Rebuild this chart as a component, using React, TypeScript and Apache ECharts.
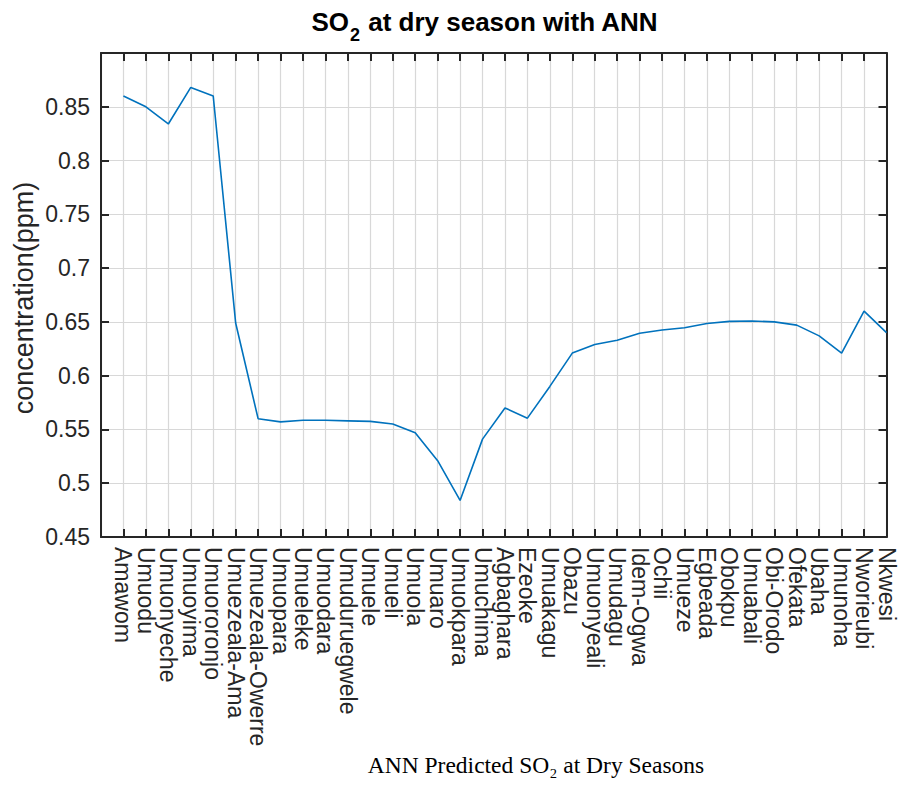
import { useEffect, useRef } from "react";
import * as echarts from "echarts";

// Sampling locations along the x axis
const villages = [
  "Amawom", "Umuodu", "Umuonyeche", "Umuoyima", "Umuororonjo", "Umuezeala-Ama",
  "Umuezeala-Owerre", "Umuopara", "Umueleke", "Umuodara", "Umuduruegwele", "Umuele",
  "Umueli", "Umuola", "Umuaro", "Umuokpara", "Umuchima", "Agbaghara", "Ezeoke",
  "Umuakagu", "Obazu", "Umuonyeali", "Umudagu", "Idem-Ogwa", "Ochii", "Umueze",
  "Egbeada", "Obokpu", "Umuabali", "Obi-Orodo", "Ofekata", "Ubaha", "Umunoha",
  "Nworieubi", "Nkwesi",
];

// ANN predicted SO2 concentration (ppm), dry season
const so2Dry = [
  0.86, 0.85, 0.834, 0.868, 0.86, 0.649, 0.56, 0.557, 0.5585, 0.5585, 0.558, 0.5575,
  0.555, 0.547, 0.521, 0.484, 0.541, 0.57, 0.5605, 0.59, 0.621, 0.629, 0.633, 0.6395,
  0.6425, 0.6445, 0.6485, 0.6505, 0.6508, 0.65, 0.647, 0.637, 0.621, 0.66, 0.64,
];

// y axis range and tick step
const yMin = 0.45;
const yMax = 0.9;
const yStep = 0.05;

// title pieces: formula, subscript, rest
const titleParts = ["SO", "2", " at dry season with ANN"];

const INK = "#262626";
const GRID = "#d8d8d8";
const SANS = "'Liberation Sans', Arial, Helvetica, sans-serif";
const TITLE_FONT = `bold 26px ${SANS}`;
const SUB_FONT = `bold 18px ${SANS}`;

function measure(text: string, font: string): number {
  const ctx = document.createElement("canvas").getContext("2d");
  if (!ctx) return text.length * 14;
  ctx.font = font;
  return ctx.measureText(text).width;
}

export default function App() {
  const ref = useRef<HTMLDivElement>(null);

  useEffect(() => {
    if (!ref.current) return;
    const chart = echarts.init(ref.current, undefined, { renderer: "svg" });

    // leading empty slot so the first village sits one step in from the left edge
    const cats = ["", ...villages];
    const values = [null, ...so2Dry];

    const frameLine = { show: true, lineStyle: { color: INK, width: 2 } };
    const inTick = { show: true, inside: true, length: 8, lineStyle: { color: INK, width: 2 } };

    // lay the title out piece by piece so the 2 sits as a subscript
    const w0 = measure(titleParts[0], TITLE_FONT);
    const w1 = measure(titleParts[1], SUB_FONT) + 2;
    const w2 = measure(titleParts[2], TITLE_FONT);
    const titleCenter = 485;
    const tx = titleCenter - (w0 + w1 + w2) / 2;
    const titleY = 22;

    chart.setOption({
      animation: false,
      backgroundColor: "#ffffff",
      grid: { left: 101, top: 53, right: 10, bottom: 250, containLabel: false },
      xAxis: [
        {
          type: "category",
          data: cats,
          boundaryGap: false,
          position: "bottom",
          axisLine: frameLine,
          axisTick: { ...inTick, interval: 0 },
          axisLabel: {
            interval: 0,
            rotate: -90,
            margin: 10,
            color: INK,
            fontSize: 23,
            fontFamily: SANS,
          },
          splitLine: { show: true, interval: 0, lineStyle: { color: GRID, width: 1.2 } },
        },
        {
          type: "category",
          data: cats,
          boundaryGap: false,
          position: "top",
          axisLine: frameLine,
          axisTick: { ...inTick, interval: 0 },
          axisLabel: { show: false },
          splitLine: { show: false },
        },
      ],
      yAxis: [
        {
          type: "value",
          min: yMin,
          max: yMax,
          interval: yStep,
          position: "left",
          axisLine: frameLine,
          axisTick: inTick,
          axisLabel: {
            showMaxLabel: false,
            margin: 11,
            color: INK,
            fontSize: 23,
            fontFamily: SANS,
          },
          splitLine: { show: true, lineStyle: { color: GRID, width: 1.2 } },
        },
        {
          type: "value",
          min: yMin,
          max: yMax,
          interval: yStep,
          position: "right",
          axisLine: frameLine,
          axisTick: inTick,
          axisLabel: { show: false },
          splitLine: { show: false },
        },
      ],
      series: [
        {
          type: "line",
          data: values,
          xAxisIndex: 0,
          yAxisIndex: 0,
          showSymbol: false,
          symbol: "none",
          lineStyle: { color: "#0072BD", width: 1.6 },
          z: 5,
        },
      ],
      graphic: [
        {
          type: "text",
          x: tx,
          y: titleY,
          style: {
            text: titleParts[0],
            align: "left",
            verticalAlign: "middle",
            fill: "#000000",
            font: TITLE_FONT,
          },
        },
        {
          type: "text",
          x: tx + w0 + 1,
          y: titleY + 13,
          style: {
            text: titleParts[1],
            align: "left",
            verticalAlign: "middle",
            fill: "#000000",
            font: SUB_FONT,
          },
        },
        {
          type: "text",
          x: tx + w0 + w1,
          y: titleY,
          style: {
            text: titleParts[2],
            align: "left",
            verticalAlign: "middle",
            fill: "#000000",
            font: TITLE_FONT,
          },
        },
        {
          type: "text",
          x: 24,
          y: 298,
          rotation: Math.PI / 2,
          style: {
            text: "concentration(ppm)",
            align: "center",
            verticalAlign: "middle",
            fill: INK,
            fontSize: 27,
            fontFamily: SANS,
          },
        },
        {
          type: "text",
          x: 536,
          y: 765,
          style: {
            text: "ANN Predicted SO₂ at Dry Seasons",
            align: "center",
            verticalAlign: "middle",
            fill: "#000000",
            fontSize: 23.5,
            fontFamily: "'Liberation Serif', 'Times New Roman', serif",
          },
        },
      ],
    });

    return () => chart.dispose();
  }, []);

  return (
    <div
      ref={ref}
      style={{ position: "fixed", left: 0, top: 0, width: 898, height: 787, background: "#fff" }}
    />
  );
}
